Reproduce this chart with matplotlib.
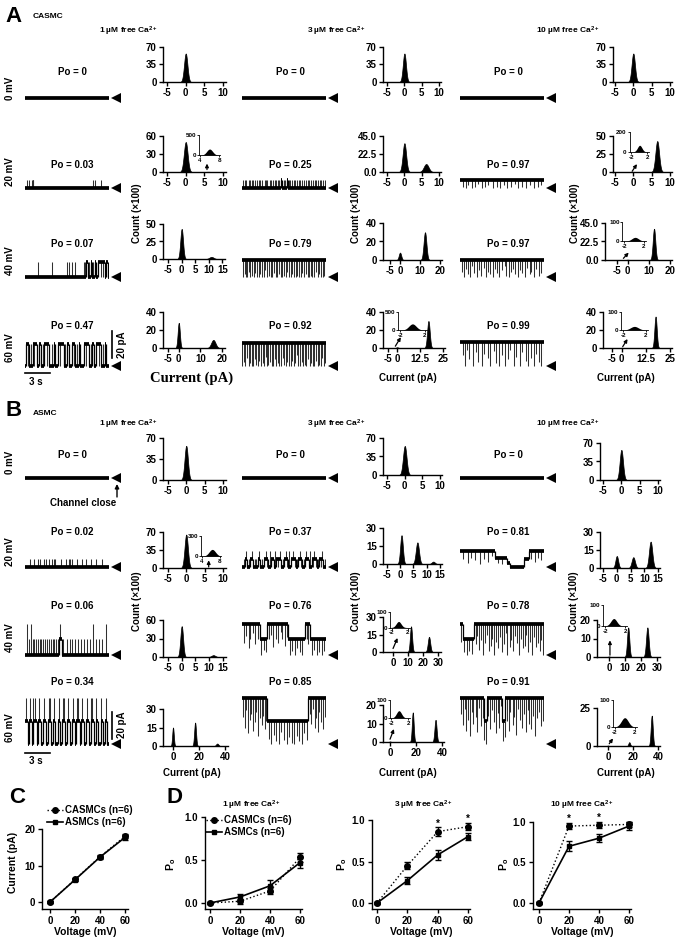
import numpy as np
import matplotlib.pyplot as plt
from matplotlib.lines import Line2D

plt.rcParams.update({
    'font.family': ['Liberation Sans', 'DejaVu Sans'],
    'font.weight': 'bold',
    'axes.labelweight': 'bold',
    'axes.linewidth': 1.0,
    'axes.facecolor': 'none',
    'mathtext.fontset': 'custom',
    'mathtext.rm': 'Liberation Sans:bold',
    'mathtext.it': 'Liberation Sans:bold',
    'mathtext.bf': 'Liberation Sans:bold',
    'mathtext.default': 'regular',
})

W, H = 683, 946
PX_PA = 1.35   # trace scale: pixels per pA
PX_S = 8.4     # trace scale: pixels per second

# ---------------- data ----------------
CA_LABELS = ['1 µM free Ca$^{2+}$', '3 µM free Ca$^{2+}$', '10 µM free Ca$^{2+}$']
ROW_LABELS = ['0 mV', '20 mV', '40 mV', '60 mV']
A_PO = [['0', '0', '0'], ['0.03', '0.25', '0.97'], ['0.07', '0.79', '0.97'], ['0.47', '0.92', '0.99']]
B_PO = [['0', '0', '0'], ['0.02', '0.37', '0.81'], ['0.06', '0.76', '0.78'], ['0.34', '0.85', '0.91']]

# amplitude histograms: (centre pA, height x100, width pA), one list per [Ca2+] column
A0_PEAKS = [[(0, 57, .45)], [(0, 57, .45)], [(0, 57, .45)]]
A20_PEAKS = [[(0, 50, .5), (6, .4, .6)], [(0, 36, .5), (6.3, 10, .7)], [(0, .3, .5), (6.5, 43, .5)]]
A40_PEAKS = [[(0, 43, .5), (11, 3, .8)], [(0, 8, .6), (12.5, 30, .7)], [(0, .4, .6), (12.5, 38, .6)]]
A60_PEAKS = [[(0, 28, .5), (16, 9, 1.0)], [(0, .8, .6), (17, 30, .7)], [(0, .3, .6), (17.5, 35, .6)]]
B0_PEAKS = [[(0, 57, .45)], [(0, 55, .5)], [(0, 57, .45)]]
B20_PEAKS = [[(0, 65, .45), (6, .3, .6)], [(0.5, 24, .5), (6.5, 18, .6), (12.5, 2, .6)],
             [(0, 10, .5), (6, 9, .6), (12.3, 22, .6)]]
B40_PEAKS = [[(0, 50, .5), (11.5, 3, .7)], [(0, .3, .6), (12, 22, .7), (24, 13, .8)],
             [(0, .3, .6), (12, 16, .7), (24, 16, .8)]]
B60_PEAKS = [[(0, 15, .6), (17, 19, .7), (34, 2, .9)], [(0, .3, .6), (17.5, 16, .7), (35, 12, .8)],
             [(0, .3, .6), (17, 2.5, .7), (35, 20, .8)]]

A0_YT = [[0, 35, 70], [0, 35, 70], [0, 35, 70]]
A20_YT = [[0, 30, 60], [0, 22.5, 45], [0, 25, 50]]
A40_YT = [[0, 25, 50], [0, 20, 40], [0, 22.5, 45]]
A60_YT = [[0, 20, 40], [0, 20, 40], [0, 20, 40]]
B0_YT = [[0, 35, 70], [0, 35, 70], [0, 35, 70]]
B20_YT = [[0, 35, 70], [0, 15, 30], [0, 15, 30]]
B40_YT = [[0, 30, 60], [0, 15, 30], [0, 10, 20]]
B60_YT = [[0, 15, 30], [0, 10, 20], [0, 25]]

A0_XT = [[-5, 0, 5, 10]] * 3
A20_XT = [[-5, 0, 5, 10]] * 3
A40_XT = [[-5, 0, 5, 10, 15], [-5, 0, 10, 20], [-5, 0, 10, 20]]
A60_XT = [[-5, 0, 10, 20], [-5, 0, 12.5, 25], [-5, 0, 12.5, 25]]
B0_XT = [[-5, 0, 5, 10]] * 3
B20_XT = [[-5, 0, 5, 10], [-5, 0, 5, 10, 15], [-5, 0, 5, 10, 15]]
B40_XT = [[-5, 0, 5, 10, 15], [0, 10, 20, 30], [0, 10, 20, 30]]
B60_XT = [[0, 20, 40]] * 3

# single-channel traces: steps = (start s, level pA); flicks = brief events (time s, level reached pA)
FLAT = [(0, 0)]
A20_1_STEPS = [(0, 0)]
A20_1_FT = [0.2, 0.45, 0.8, 0.9, 0.95, 1.0, 8.1, 8.3, 9.0]
A20_1_TO = 6
A20_2_STEPS = [(0, 0), (4.6, 6), (4.8, 0), (5.3, 6), (5.45, 0)]
A20_2_FT = [0.15, 0.35, 0.5, 0.8, 0.95, 1.2, 1.35, 1.6, 1.75, 2.05, 2.2, 2.35, 2.7, 2.85, 3.0, 3.3,
            3.45, 3.7, 3.9, 4.05, 4.3, 4.45, 5.0, 5.15, 5.6, 5.75, 5.95, 6.15, 6.3, 6.6, 6.75, 6.9,
            7.2, 7.35, 7.6, 7.8, 8.0, 8.25, 8.4, 8.7, 8.85, 9.1, 9.3, 9.45, 9.7, 9.85]
A20_2_TO = 6
A20_3_STEPS = [(0, 6)]
A20_3_FT = [0.3, 0.7, 1.0, 1.4, 1.8, 2.1, 2.6, 3.0, 3.3, 3.9, 4.4, 4.8, 5.2, 5.6, 6.1, 6.6, 6.9,
            7.4, 7.9, 8.3, 8.8, 9.3, 9.7]
A20_3_TO = [1, 0, 2, 0, 1, 3, 0, 1, 2, 0, 1, 0, 2, 0, 1, 3, 0, 1, 0, 2, 0, 1, 2]
A40_1_STEPS = [(0, 0), (7.3, 11), (7.5, 0), (7.8, 11), (8.0, 0), (8.3, 11), (8.45, 0), (8.7, 11),
               (9.55, 0), (9.7, 11), (9.85, 0)]
A40_1_FT = [1.6, 3.2, 5.0, 5.25, 5.6, 6.0, 7.05, 7.15, 7.65, 8.15, 9.0, 9.3]
A40_1_TO = [11, 11, 11, 11, 11, 11, 11, 11, 11, 11, 0, 0]
A60_1_STEPS = [(0, 0), (0.1, 16), (0.5, 0), (0.9, 16), (1.4, 0), (1.7, 16), (1.9, 0), (2.3, 16),
               (2.9, 0), (3.4, 16), (3.6, 0), (3.9, 16), (4.6, 0), (5.0, 16), (5.2, 0), (5.6, 16),
               (6.0, 0), (6.4, 16), (6.6, 0), (7.0, 16), (7.6, 0), (8.0, 16), (8.2, 0), (8.5, 16),
               (9.1, 0), (9.5, 16), (9.7, 0)]
A60_1_FT = [0.3, 0.7, 1.1, 2.1, 2.6, 3.2, 4.2, 4.8, 5.8, 6.2, 7.3, 7.8, 8.8, 9.3]
A60_1_TO = [0, 16, 0, 16, 0, 16, 0, 16, 0, 16, 0, 16, 0, 16]
A40_2_STEPS = [(0, 12.5)]
A40_2_FT = [0.1, 0.3, 0.45, 0.6, 0.85, 1.0, 1.2, 1.4, 1.55, 1.8, 2.0, 2.15, 2.4, 2.6, 2.75, 3.0,
            3.2, 3.4, 3.55, 3.8, 4.0, 4.2, 4.35, 4.6, 4.8, 5.0, 5.2, 5.35, 5.6, 5.8, 5.95, 6.2,
            6.4, 6.6, 6.75, 7.0, 7.2, 7.35, 7.6, 7.8, 8.0, 8.2, 8.35, 8.6, 8.8, 9.0, 9.2, 9.35,
            9.6, 9.8]
A40_2_TO = [0, 2, 0, 0, 4, 0, 1, 0, 3, 0, 0, 2, 0, 0, 5, 0, 1, 0, 0, 3, 0, 0, 2, 0, 0, 1, 0, 4,
            0, 0, 2, 0, 0, 1, 0, 0, 3, 0, 2, 0, 0, 1, 0, 0, 4, 0, 2, 0, 0, 1]
A60_2_STEPS = [(0, 17)]
A60_2_FT = [0.05, 0.25, 0.4, 0.6, 0.8, 0.95, 1.15, 1.3, 1.5, 1.7, 1.9, 2.05, 2.25, 2.45, 2.6, 2.8,
            3.0, 3.15, 3.35, 3.55, 3.7, 3.9, 4.1, 4.3, 4.45, 4.65, 4.85, 5.05, 5.2, 5.4, 5.6, 5.8,
            5.95, 6.15, 6.35, 6.55, 6.7, 6.9, 7.1, 7.3, 7.45, 7.65, 7.85, 8.05, 8.2, 8.4, 8.6,
            8.8, 9.0, 9.15, 9.35, 9.55, 9.75, 9.9]
A60_2_TO = [0, 3, 0, 6, 0, 2, 0, 0, 5, 1, 0, 4, 0, 2, 0, 7, 0, 1, 3, 0, 0, 5, 0, 2, 0, 0, 6, 1,
            0, 3, 0, 0, 4, 0, 2, 8, 0, 0, 3, 0, 1, 0, 5, 0, 2, 0, 0, 4, 0, 1, 0, 6, 0, 2]
A40_3_STEPS = [(0, 12.5)]
A40_3_FT = [0.2, 0.45, 0.7, 0.9, 1.2, 1.45, 1.7, 2.0, 2.3, 2.5, 2.8, 3.1, 3.35, 3.6, 3.9, 4.2,
            4.4, 4.7, 5.0, 5.3, 5.5, 5.8, 6.1, 6.35, 6.6, 6.9, 7.2, 7.4, 7.7, 8.0, 8.3, 8.5, 8.8,
            9.1, 9.4, 9.7]
A40_3_TO = [4, 0, 6, 2, 0, 8, 3, 0, 5, 1, 7, 0, 4, 2, 0, 6, 3, 0, 5, 8, 1, 0, 4, 6, 2, 0, 5, 3,
            0, 7, 2, 4, 0, 6, 1, 3]
A60_3_STEPS = [(0, 17.5)]
A60_3_FT = [0.3, 0.6, 0.8, 1.1, 1.5, 1.9, 2.2, 2.6, 2.9, 3.3, 3.6, 4.0, 4.3, 4.7, 5.0, 5.4, 5.7,
            6.0, 6.4, 6.7, 7.1, 7.4, 7.8, 8.1, 8.5, 8.8, 9.1, 9.4, 9.7, 9.95]
A60_3_TO = [8, 0, 12, 5, 0, 10, 3, 0, 9, 6, 0, 11, 2, 0, 8, 0, 5, 12, 0, 7, 0, 10, 4, 0, 6, 0,
            9, 3, 0, 8]

B20_1_STEPS = [(0, 0)]
B20_1_FT = [0.6, 1.1, 1.5, 1.8, 2.3, 2.5, 2.9, 3.2, 3.4, 3.6, 4.3, 4.9, 5.2, 5.4, 5.6, 6.2, 6.8,
            7.3, 7.9, 8.4, 9.2]
B20_1_TO = 6
B20_2_STEPS = [(0, 0), (0.4, 6), (0.6, 0), (1.0, 6), (1.3, 0), (1.9, 6), (2.2, 0), (2.6, 6),
               (3.1, 0), (3.5, 6), (3.8, 0), (4.1, 6), (4.7, 0), (5.0, 6), (5.5, 0), (5.8, 6),
               (6.4, 0), (6.7, 6), (7.2, 0), (7.5, 6), (8.0, 0), (8.3, 6), (8.9, 0), (9.2, 6),
               (9.7, 0)]
B20_2_FT = [0.2, 0.5, 0.8, 1.15, 1.5, 1.7, 2.0, 2.4, 2.8, 2.95, 3.3, 3.65, 3.95, 4.3, 4.5, 4.85,
            5.2, 5.35, 5.65, 5.95, 6.1, 6.25, 6.55, 6.85, 7.0, 7.35, 7.65, 7.85, 8.1, 8.45, 8.6,
            8.75, 9.05, 9.35, 9.5, 9.85]
B20_2_TO = [6, 12, 6, 12, 6, 6, 12, 6, 12, 0, 12, 6, 12, 0, 12, 6, 12, 0, 12, 6, 12, 0, 6, 12,
            0, 6, 12, 6, 12, 0, 12, 0, 6, 0, 12, 6]
B20_3_STEPS = [(0, 12), (4.2, 7), (5.6, 3), (6.0, 0), (7.6, 6), (8.2, 12)]
B20_3_FT = [0.4, 0.9, 1.3, 1.8, 2.4, 2.9, 3.3, 3.8, 4.5, 5.0, 8.5, 8.9, 9.3, 9.7]
B20_3_TO = [6, 3, 7, 5, 2, 6, 4, 8, 3, 2, 6, 4, 7, 5]
B40_1_STEPS = [(0, 0), (4.1, 11.5), (4.35, 0)]
B40_1_FT = [0.25, 0.45, 0.7, 0.9, 1.1, 1.3, 1.5, 1.75, 1.9, 2.2, 2.4, 2.6, 2.9, 3.1, 3.3, 3.5,
            3.7, 3.95, 4.2, 4.5, 5.0, 5.3, 5.6, 6.0, 6.3, 6.7, 7.0, 7.4, 7.7, 8.1, 8.4, 8.8, 9.2,
            9.6]
B40_1_TO = [23, 11.5, 23, 11.5, 11.5, 11.5, 11.5, 11.5, 11.5, 11.5, 11.5, 11.5, 11.5, 11.5, 11.5,
            11.5, 11.5, 11.5, 23, 11.5, 11.5, 11.5, 11.5, 11.5, 11.5, 11.5, 11.5, 11.5, 11.5, 23,
            11.5, 11.5, 11.5, 23]
B60_1_STEPS = [(0, 17), (0.3, 0), (0.5, 17), (0.8, 0), (1.0, 17), (1.4, 0), (1.6, 17), (1.9, 0),
               (2.2, 17), (2.5, 0), (2.7, 17), (3.1, 0), (3.3, 17), (3.6, 0), (3.9, 17), (4.2, 0),
               (4.4, 17), (4.8, 0), (5.0, 17), (5.3, 0), (5.6, 17), (5.9, 0), (6.1, 17), (6.5, 0),
               (6.7, 17), (7.0, 0), (7.3, 17), (7.6, 0), (7.8, 17), (8.2, 0), (8.4, 17), (8.7, 0),
               (9.0, 17), (9.3, 0), (9.5, 17), (9.8, 0)]
B60_1_FT = [0.15, 0.55, 0.9, 1.2, 1.7, 2.3, 2.8, 2.95, 3.4, 4.0, 4.5, 4.65, 5.1, 5.7, 6.2, 6.3,
            6.8, 7.4, 7.9, 8.0, 8.5, 9.1, 9.6]
B60_1_TO = 34
B40_2_STEPS = [(0, 23), (2.1, 11.5), (3.0, 23), (5.5, 11.5), (7.5, 23), (8.1, 11.5)]
B40_2_FT = [0.2, 0.5, 0.8, 1.0, 1.3, 1.6, 1.9, 2.3, 2.6, 2.8, 3.2, 3.5, 3.7, 4.0, 4.3, 4.6, 4.8,
            5.1, 5.3, 5.7, 6.0, 6.3, 6.6, 6.9, 7.2, 7.7, 7.9, 8.3, 8.6, 8.9, 9.2, 9.5, 9.8]
B40_2_TO = [9, 14, 5, 11.5, 16, 8, 11.5, 0, 4, 2, 11.5, 15, 6, 11.5, 9, 17, 11.5, 7, 13, 0, 3, 0,
            5, 2, 0, 11.5, 8, 0, 4, 0, 2, 0, 3]
B60_2_STEPS = [(0, 34), (3.0, 17), (7.9, 34)]
B60_2_FT = [0.1, 0.35, 0.5, 0.75, 0.95, 1.1, 1.35, 1.55, 1.7, 1.95, 2.1, 2.35, 2.55, 2.7, 2.9,
            3.25, 3.5, 3.85, 4.1, 4.45, 4.7, 5.05, 5.3, 5.6, 5.95, 6.2, 6.55, 6.8, 7.15, 7.4, 7.7,
            8.05, 8.2, 8.45, 8.65, 8.8, 9.05, 9.2, 9.45, 9.6, 9.85]
B60_2_TO = [20, 12, 25, 8, 18, 22, 10, 16, 24, 6, 19, 14, 21, 11, 17, 4, 0, 7, 2, 0, 9, 3, 0, 5,
            1, 0, 6, 2, 0, 8, 3, 22, 15, 26, 12, 19, 9, 24, 16, 11, 20]
B40_3_STEPS = [(0, 23), (0.3, 11.5), (1.7, 23)]
B40_3_FT = [0.15, 0.5, 0.8, 1.1, 1.4, 1.85, 2.05, 2.3, 2.5, 2.75, 2.95, 3.2, 3.4, 3.65, 3.85, 4.1,
            4.3, 4.55, 4.75, 5.0, 5.2, 5.45, 5.65, 5.9, 6.1, 6.35, 6.55, 6.8, 7.0, 7.25, 7.45, 7.7,
            7.9, 8.15, 8.35, 8.6, 8.8, 9.05, 9.25, 9.5, 9.7, 9.9]
B40_3_TO = [10, 2, 0, 3, 1, 8, 14, 4, 11, 0, 9, 15, 3, 7, 12, 0, 10, 5, 13, 2, 8, 16, 0, 6, 11, 3,
            14, 9, 0, 12, 5, 7, 15, 2, 10, 0, 13, 6, 9, 3, 11, 0]
B60_3_STEPS = [(0, 34), (2.8, 17), (3.2, 34), (5.0, 17), (5.4, 34)]
B60_3_FT = [0.1, 0.3, 0.55, 0.75, 0.95, 1.2, 1.4, 1.6, 1.85, 2.05, 2.25, 2.5, 2.7, 2.9, 3.05,
            3.35, 3.6, 3.8, 4.05, 4.25, 4.5, 4.7, 4.9, 5.1, 5.3, 5.55, 5.8, 6.0, 6.25, 6.45, 6.7,
            6.9, 7.15, 7.35, 7.6, 7.8, 8.05, 8.25, 8.5, 8.7, 8.95, 9.15, 9.4, 9.6, 9.85]
B60_3_TO = [22, 14, 26, 10, 18, 6, 24, 15, 20, 9, 27, 13, 19, 3, 0, 21, 11, 25, 16, 8, 23, 12,
            28, 2, 5, 17, 10, 24, 14, 20, 7, 26, 18, 12, 22, 9, 25, 15, 11, 21, 6, 19, 24, 13, 17]

# summary data (C, D)
VOLT = [0, 20, 40, 60]
IV_CASMC = [0, 6.2, 12.4, 18.0]
IV_CASMC_ERR = [0.2, 0.3, 0.4, 0.6]
IV_ASMC = [0, 6.1, 12.3, 17.7]
IV_ASMC_ERR = [0.2, 0.3, 0.4, 0.7]
PO1_CASMC = [0, 0.02, 0.14, 0.53]
PO1_CASMC_ERR = [0.01, 0.03, 0.04, 0.05]
PO1_ASMC = [0, 0.07, 0.20, 0.47]
PO1_ASMC_ERR = [0.01, 0.03, 0.07, 0.06]
PO3_CASMC = [0, 0.45, 0.86, 0.92]
PO3_CASMC_ERR = [0.01, 0.04, 0.05, 0.04]
PO3_ASMC = [0, 0.27, 0.58, 0.80]
PO3_ASMC_ERR = [0.01, 0.04, 0.06, 0.04]
PO10_CASMC = [0, 0.95, 0.96, 0.97]
PO10_CASMC_ERR = [0.01, 0.04, 0.04, 0.03]
PO10_ASMC = [0, 0.70, 0.80, 0.95]
PO10_ASMC_ERR = [0.01, 0.06, 0.05, 0.05]
STARS3 = [40, 60]
STARS10 = [20, 40]

# ---------------- layout (pixels) ----------------
TRACE_X = [25, 242, 460]
A_BASE = [98, 188, 277, 366]
B_BASE = [478, 567, 655, 744]
PO_X = [72, 290, 508]
A_PO_Y = [72, 165, 244, 326]
B_PO_Y = [455, 532, 606, 682]
A_ROW_Y = [88, 172, 261, 348]
B_ROW_Y = [462, 552, 638, 728]
# (left, right, top, bottom, xmin, xmax)
A_BOX = [
    [(163, 226, 47, 82, -6.1, 10.8), (383, 441, 47, 82, -6.2, 10.6), (613, 672, 47, 82, -5.5, 10.5)],
    [(163, 226, 136, 172, -6.1, 10.8), (383, 441, 136, 172, -6.2, 10.6), (613, 672, 136, 172, -5.5, 10.5)],
    [(163, 225, 224, 259, -6.9, 16), (383, 442, 223, 260, -8.5, 21), (605, 672, 223, 260, -10.7, 21)],
    [(163, 225, 312, 348, -7.3, 21.4), (383, 445, 312, 348, -7.7, 26), (603, 672, 312, 348, -9.7, 26)],
]
B_BOX = [
    [(163, 226, 438, 480, -6.3, 10.8), (383, 442, 438, 475, -6.2, 10.6), (600, 660, 443, 480, -5.8, 10.5)],
    [(163, 226, 532, 568, -6.3, 10.8), (383, 442, 528, 564, -6.5, 15.8), (600, 660, 532, 568, -6.1, 15.7)],
    [(163, 226, 620, 657, -6.8, 16.1), (383, 441, 617, 652, -6.7, 32), (597, 660, 620, 657, -7.5, 31.9)],
    [(163, 228, 709, 746, -7.7, 42.3), (383, 444, 705, 742, -5.4, 41.5), (597, 660, 708, 746, -8.8, 41.6)],
]
# inset: rect (axes fraction), xlim, xticks, ytop, hump (centre, height, width), arrow (from, to)
INSETS = {
    ('A', 1, 0): ([.57, .47, .34, .56], (3.8, 8.2), [4, 8], 500, (6, 150, .6), ((5.7, 4), (5.7, 14))),
    ('A', 1, 2): ([.28, .56, .33, .56], (-2.4, 2.4), [-2, 2], 200, (0.1, 65, .55), ((-0.3, 1), (1.0, 11))),
    ('A', 2, 2): ([.26, .51, .35, .51], (-2.4, 2.4), [-2, 2], 100, (0.2, 20, .7), ((-2, 2), (0.5, 9))),
    ('A', 3, 1): ([.24, .5, .47, .5], (-2.4, 2.4), [-2, 2], 500, (0, 170, .6), ((-1, 2), (2, 12))),
    ('A', 3, 2): ([.26, .5, .39, .5], (-2.4, 2.4), [-2, 2], 100, (0, 20, .7), ((0.5, 1.5), (3, 10))),
    ('B', 1, 0): ([.6, .33, .32, .56], (3.8, 8.2), [4, 8], 300, (6.3, 100, .7), ((6.1, 2), (6.1, 15))),
    ('B', 2, 1): ([.12, .7, .34, .43], (-2.4, 2.4), [-2, 2], 100, (-0.3, 40, .6), ((0, 3), (3, 12))),
    ('B', 2, 2): ([.1, .84, .38, .57], (-2.4, 2.4), [-2, 2], 100, (-0.3, 35, .6), ((0.6, 1), (0.6, 9))),
    ('B', 3, 1): ([.11, .65, .33, .49], (-2.4, 2.4), [-2, 2], 100, (-0.2, 40, .6), ((0, 1.5), (3, 7))),
    ('B', 3, 2): ([.25, .5, .38, .7], (-2.4, 2.4), [-2, 2], 100, (0, 35, .7), ((1, 1.5), (4, 5))),
}

fig = plt.figure(figsize=(W / 100, H / 100), dpi=100)


def px_axes(left, top, right, bottom):
    return fig.add_axes([left / W, 1 - bottom / H, (right - left) / W, (bottom - top) / H])


ov = px_axes(0, 0, W, H)
ov.set_xlim(0, W)
ov.set_ylim(H, 0)
ov.axis('off')
ov.set_zorder(10)


def txt(x, y, s, size=7, **kw):
    ov.text(x, y, s, fontsize=size, fontweight='bold', ha=kw.pop('ha', 'center'),
            va=kw.pop('va', 'center'), **kw)


def draw_trace(x0, base, steps, ft=(), fto=0):
    ax = px_axes(x0, base - 45 * PX_PA, x0 + 10 * PX_S, base + 12 * PX_PA)
    ax.set_xlim(0, 10)
    ax.set_ylim(-12, 45)
    ax.axis('off')
    t = np.array([s[0] for s in steps] + [10], float)
    lv = np.array([s[1] for s in steps], float)
    # dwell levels as a thick noisy band, transitions as thin lines
    ax.hlines(lv, t[:-1], t[1:], color='k', lw=2.7, zorder=3)
    if len(lv) > 1:
        ax.vlines(t[1:-1], lv[:-1], lv[1:], color='k', lw=0.9, zorder=3)
    if len(ft):
        ft = np.asarray(ft, float)
        fto = np.full(len(ft), fto, float) if np.isscalar(fto) else np.asarray(fto, float)
        n = min(len(ft), len(fto))
        idx = np.searchsorted(t[:-1], ft[:n], side='right') - 1
        ax.vlines(ft[:n], lv[idx], fto[:n], color='#303030', lw=0.75, zorder=2)
    ax.plot(10.85, 0, marker='<', color='k', ms=6.5, mew=0, clip_on=False)
    return ax


def draw_hist(box, xt, yt, peaks, inset=None):
    l, r, t, b, xlo, xhi = box
    ax = px_axes(l, t, r, b)
    x = np.linspace(xlo, xhi, 800)
    y = np.zeros_like(x)
    for c, h, w in peaks:
        y += h * np.exp(-0.5 * ((x - c) / w) ** 2)
    ax.fill_between(x, 0, y, color='k', lw=0.5)
    ax.set_xlim(xlo, xhi)
    ax.set_ylim(0, yt[-1])
    ax.set_xticks(xt, [f'{v:g}' for v in xt])
    fmt = '{:.1f}' if any(v != int(v) for v in yt) else '{:g}'
    ax.set_yticks(yt, [fmt.format(v) for v in yt])
    ax.tick_params(labelsize=7, length=3, width=1, pad=1.5)
    ax.spines[['top', 'right']].set_visible(False)
    if inset:
        rect, ixl, ixt, itop, (c, h, w), (p0, p1) = inset
        ia = ax.inset_axes(rect)
        xx = np.linspace(ixl[0], ixl[1], 200)
        ia.fill_between(xx, 0, h * np.exp(-0.5 * ((xx - c) / w) ** 2), color='k', lw=0)
        ia.set_xlim(ixl)
        ia.set_ylim(0, itop)
        ia.set_xticks(ixt, [f'{v:g}' for v in ixt])
        ia.set_yticks([0, itop], ['0', str(itop)])
        ia.tick_params(labelsize=4.5, length=1.5, width=0.6, pad=0.5)
        ia.spines[['top', 'right']].set_visible(False)
        for s in ('left', 'bottom'):
            ia.spines[s].set_linewidth(0.6)
        ax.annotate('', xy=p1, xytext=p0,
                    arrowprops=dict(arrowstyle='-|>', color='k', lw=0.9, mutation_scale=5,
                                    shrinkA=0, shrinkB=0))
    return ax


# ---------------- panels A and B ----------------
A_TRACES = [
    [(FLAT, (), 0), (FLAT, (), 0), (FLAT, (), 0)],
    [(A20_1_STEPS, A20_1_FT, A20_1_TO), (A20_2_STEPS, A20_2_FT, A20_2_TO), (A20_3_STEPS, A20_3_FT, A20_3_TO)],
    [(A40_1_STEPS, A40_1_FT, A40_1_TO), (A40_2_STEPS, A40_2_FT, A40_2_TO), (A40_3_STEPS, A40_3_FT, A40_3_TO)],
    [(A60_1_STEPS, A60_1_FT, A60_1_TO), (A60_2_STEPS, A60_2_FT, A60_2_TO), (A60_3_STEPS, A60_3_FT, A60_3_TO)],
]
B_TRACES = [
    [(FLAT, (), 0), (FLAT, (), 0), (FLAT, (), 0)],
    [(B20_1_STEPS, B20_1_FT, B20_1_TO), (B20_2_STEPS, B20_2_FT, B20_2_TO), (B20_3_STEPS, B20_3_FT, B20_3_TO)],
    [(B40_1_STEPS, B40_1_FT, B40_1_TO), (B40_2_STEPS, B40_2_FT, B40_2_TO), (B40_3_STEPS, B40_3_FT, B40_3_TO)],
    [(B60_1_STEPS, B60_1_FT, B60_1_TO), (B60_2_STEPS, B60_2_FT, B60_2_TO), (B60_3_STEPS, B60_3_FT, B60_3_TO)],
]
PANELS = {
    'A': (A_TRACES, A_BASE, A_BOX, [A0_PEAKS, A20_PEAKS, A40_PEAKS, A60_PEAKS],
          [A0_XT, A20_XT, A40_XT, A60_XT], [A0_YT, A20_YT, A40_YT, A60_YT], A_PO, A_PO_Y, A_ROW_Y),
    'B': (B_TRACES, B_BASE, B_BOX, [B0_PEAKS, B20_PEAKS, B40_PEAKS, B60_PEAKS],
          [B0_XT, B20_XT, B40_XT, B60_XT], [B0_YT, B20_YT, B40_YT, B60_YT], B_PO, B_PO_Y, B_ROW_Y),
}

trace_axes = {}
for p, (traces, bases, boxes, peaks, xts, yts, pos, po_y, row_y) in PANELS.items():
    for r in range(4):
        txt(10, row_y[r], ROW_LABELS[r], 7, rotation=90)
        for c in range(3):
            st, ft, fto = traces[r][c]
            trace_axes[(p, r, c)] = draw_trace(TRACE_X[c], bases[r], st, ft, fto)
            txt(PO_X[c], po_y[r], f'Po = {pos[r][c]}', 7)
            draw_hist(boxes[r][c], xts[r][c], yts[r][c], peaks[r][c], INSETS.get((p, r, c)))

# panel headings and shared labels
txt(14, 17, 'A', 16)
txt(33, 17, 'CASMC', 6, ha='left')
txt(14, 410, 'B', 16)
txt(33, 413, 'ASMC', 6, ha='left')
for x, lab in zip([129, 337, 568], CA_LABELS):
    txt(x, 31, lab, 6)
    txt(x, 424, lab, 6)
for x, y in [(137, 213), (356, 213), (575, 213), (137, 601), (356, 601), (574, 601)]:
    txt(x, y, 'Count (×100)', 7, rotation=90)
ov.text(192, 378, 'Current (pA)', fontsize=10.5, fontweight='bold', family='Liberation Serif',
        ha='center', va='center')
for x, y in [(408, 378), (626, 378), (192, 773), (408, 773), (626, 773)]:
    txt(x, y, 'Current (pA)', 7)

# scale bars
for key, lo, hi, ybar in [(('A', 3, 0), 6, 26, -5.5), (('B', 3, 0), 4, 24, -6.5)]:
    ax = trace_axes[key]
    ax.plot([10.35, 10.35], [lo, hi], color='k', lw=1.2, clip_on=False)
    ax.text(11.5, (lo + hi) / 2, '20 pA', rotation=90, fontsize=7, fontweight='bold',
            ha='center', va='center', clip_on=False)
    ax.plot([0, 3], [ybar, ybar], color='k', lw=1.2, clip_on=False)
    ax.text(1.3, ybar - 6, '3 s', fontsize=7, fontweight='bold', ha='center', va='center')

txt(83, 503, 'Channel close', 7)
ov.annotate('', xy=(117, 484), xytext=(117, 497),
            arrowprops=dict(arrowstyle='-|>', color='k', lw=1, mutation_scale=6,
                            shrinkA=0, shrinkB=0))


# ---------------- panels C and D ----------------
def iv_axes(box, xlim, ylim, yt, ytl):
    l, r, t, b = box
    ax = px_axes(l, t, r, b)
    ax.set_xlim(xlim)
    ax.set_ylim(ylim)
    ax.set_xticks(VOLT)
    ax.set_yticks(yt, ytl)
    ax.tick_params(labelsize=7, length=3, width=1, pad=2)
    ax.spines[['top', 'right']].set_visible(False)
    ax.set_xlabel('Voltage (mV)', fontsize=7.5, labelpad=1)
    return ax


def pair(ax, cas, cas_err, asm, asm_err):
    ax.errorbar(VOLT, cas, yerr=cas_err, fmt='o', ls=':', color='k', ms=4, lw=1,
                capsize=2, elinewidth=1, capthick=1, clip_on=False, zorder=3)
    ax.errorbar(VOLT, asm, yerr=asm_err, fmt='s', ls='-', color='k', ms=3.5, lw=1.2,
                capsize=2, elinewidth=1, capthick=1, clip_on=False, zorder=3)


h_cas = Line2D([], [], color='k', ls=':', lw=1, marker='o', ms=4)
h_asm = Line2D([], [], color='k', ls='-', lw=1.2, marker='s', ms=3.5)
LEG_LABELS = ['CASMCs (n=6)', 'ASMCs (n=6)']

axC = iv_axes((42, 128, 829, 909), (-6.4, 62.4), (-1.9, 20), [0, 10, 20], ['0', '10', '20'])
pair(axC, IV_CASMC, IV_CASMC_ERR, IV_ASMC, IV_ASMC_ERR)
axC.legend([h_cas, h_asm], LEG_LABELS, loc='upper left', bbox_to_anchor=(47 / W, 1 - 805 / H),
           bbox_transform=fig.transFigure, frameon=False, fontsize=7, handlelength=1.6,
           handletextpad=0.3, labelspacing=0.25, borderpad=0, borderaxespad=0)
txt(17, 797, 'C', 16)
txt(13, 862, 'Current (pA)', 7.5, rotation=90)

D_BOXES = [(205, 302, 817, 909), (372, 470, 820, 909), (533, 631, 822, 909)]
D_XLIM = [(-3.3, 61.3), (-3.3, 61.3), (-4, 61.3)]
D_YLIM = [(-0.07, 1.0), (-0.072, 1.0), (-0.075, 1.0)]
D_TITLE_X = [252, 424, 582]
D_YLAB_X = [171, 342, 504]
D_DATA = [(PO1_CASMC, PO1_CASMC_ERR, PO1_ASMC, PO1_ASMC_ERR),
          (PO3_CASMC, PO3_CASMC_ERR, PO3_ASMC, PO3_ASMC_ERR),
          (PO10_CASMC, PO10_CASMC_ERR, PO10_ASMC, PO10_ASMC_ERR)]
D_STARS = [[], STARS3, STARS10]

for i in range(3):
    ax = iv_axes(D_BOXES[i], D_XLIM[i], D_YLIM[i], [0, 0.5, 1.0], ['0.0', '0.5', '1.0'])
    pair(ax, *D_DATA[i])
    cas = D_DATA[i][0]
    for v in D_STARS[i]:
        ax.text(v, cas[VOLT.index(v)] + 0.09, '*', ha='center', va='center', fontsize=7,
                clip_on=False)
    txt(D_TITLE_X[i], 805, CA_LABELS[i], 6)
    txt(D_YLAB_X[i], 864, 'P$_{o}$', 7.5, rotation=90)
    if i == 0:
        ax.legend([h_cas, h_asm], LEG_LABELS, loc='upper left',
                  bbox_to_anchor=(206 / W, 1 - 815 / H), bbox_transform=fig.transFigure,
                  frameon=False, fontsize=7, handlelength=1.6, handletextpad=0.3,
                  labelspacing=0.25, borderpad=0, borderaxespad=0)
txt(174, 797, 'D', 16)

fig.savefig('out.png', dpi=100)
